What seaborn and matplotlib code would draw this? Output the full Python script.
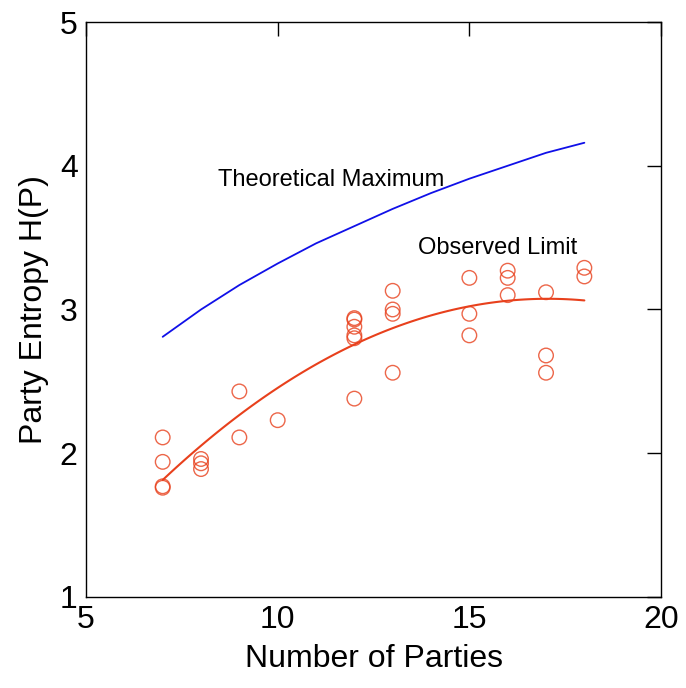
import matplotlib
matplotlib.use("Agg")
import matplotlib.pyplot as plt
import seaborn as sns
import pandas as pd

# observed party entropy per election
parties = [7, 7, 7, 7, 8, 8, 8, 9, 9, 10,
           12, 12, 12, 12, 12, 12, 13, 13, 13, 13,
           15, 15, 15, 16, 16, 16, 17, 17, 17, 18, 18]
entropy = [2.11, 1.94, 1.77, 1.76, 1.96, 1.93, 1.89, 2.43, 2.11, 2.23,
           2.94, 2.93, 2.88, 2.82, 2.80, 2.38, 3.13, 3.00, 2.97, 2.56,
           3.22, 2.97, 2.82, 3.27, 3.22, 3.10, 3.12, 2.68, 2.56, 3.29, 3.23]

# theoretical maximum curve
max_n = [7, 8, 9, 10, 11, 12, 13, 14, 15, 16, 17, 18]
max_h = [2.81, 3.00, 3.17, 3.32, 3.46, 3.58, 3.70, 3.81, 3.91, 4.00, 4.09, 4.16]

obs = pd.DataFrame({"n": parties, "h": entropy})
theo = pd.DataFrame({"n": max_n, "h": max_h})

sns.set_style("white")
plt.rcParams["font.family"] = ["Liberation Sans", "DejaVu Sans"]
plt.rcParams["text.color"] = "black"
plt.rcParams["axes.labelcolor"] = "black"

red = "#e8401c"
fig = plt.figure(figsize=(6.86, 6.88), dpi=100)
ax = fig.add_axes([0.1254, 0.1323, 0.8382, 0.8357])

sns.lineplot(data=theo, x="n", y="h", color="#1010e8", lw=1.3, ax=ax)
sns.regplot(data=obs, x="n", y="h", order=2, ci=None, ax=ax,
            scatter_kws=dict(s=110, facecolors="none", edgecolors=red, linewidths=1.0),
            line_kws=dict(color=red, lw=1.5))

ax.text(8.45, 3.90, "Theoretical Maximum", fontsize=17, va="center")
ax.text(13.65, 3.43, "Observed Limit", fontsize=17, va="center")

ax.set_xlim(5, 20)
ax.set_ylim(1, 5)
ax.set_xticks([5, 10, 15, 20])
ax.set_yticks([1, 2, 3, 4, 5])
ax.tick_params(direction="in", length=10, width=1, labelsize=23, pad=6,
               top=True, right=True, colors="black")
for s in ax.spines.values():
    s.set_color("black")
    s.set_linewidth(1)
ax.set_xlabel("Number of Parties", fontsize=23, labelpad=6)
ax.set_ylabel("Party Entropy H(P)", fontsize=23, labelpad=8)

fig.savefig("out.png", dpi=100)
